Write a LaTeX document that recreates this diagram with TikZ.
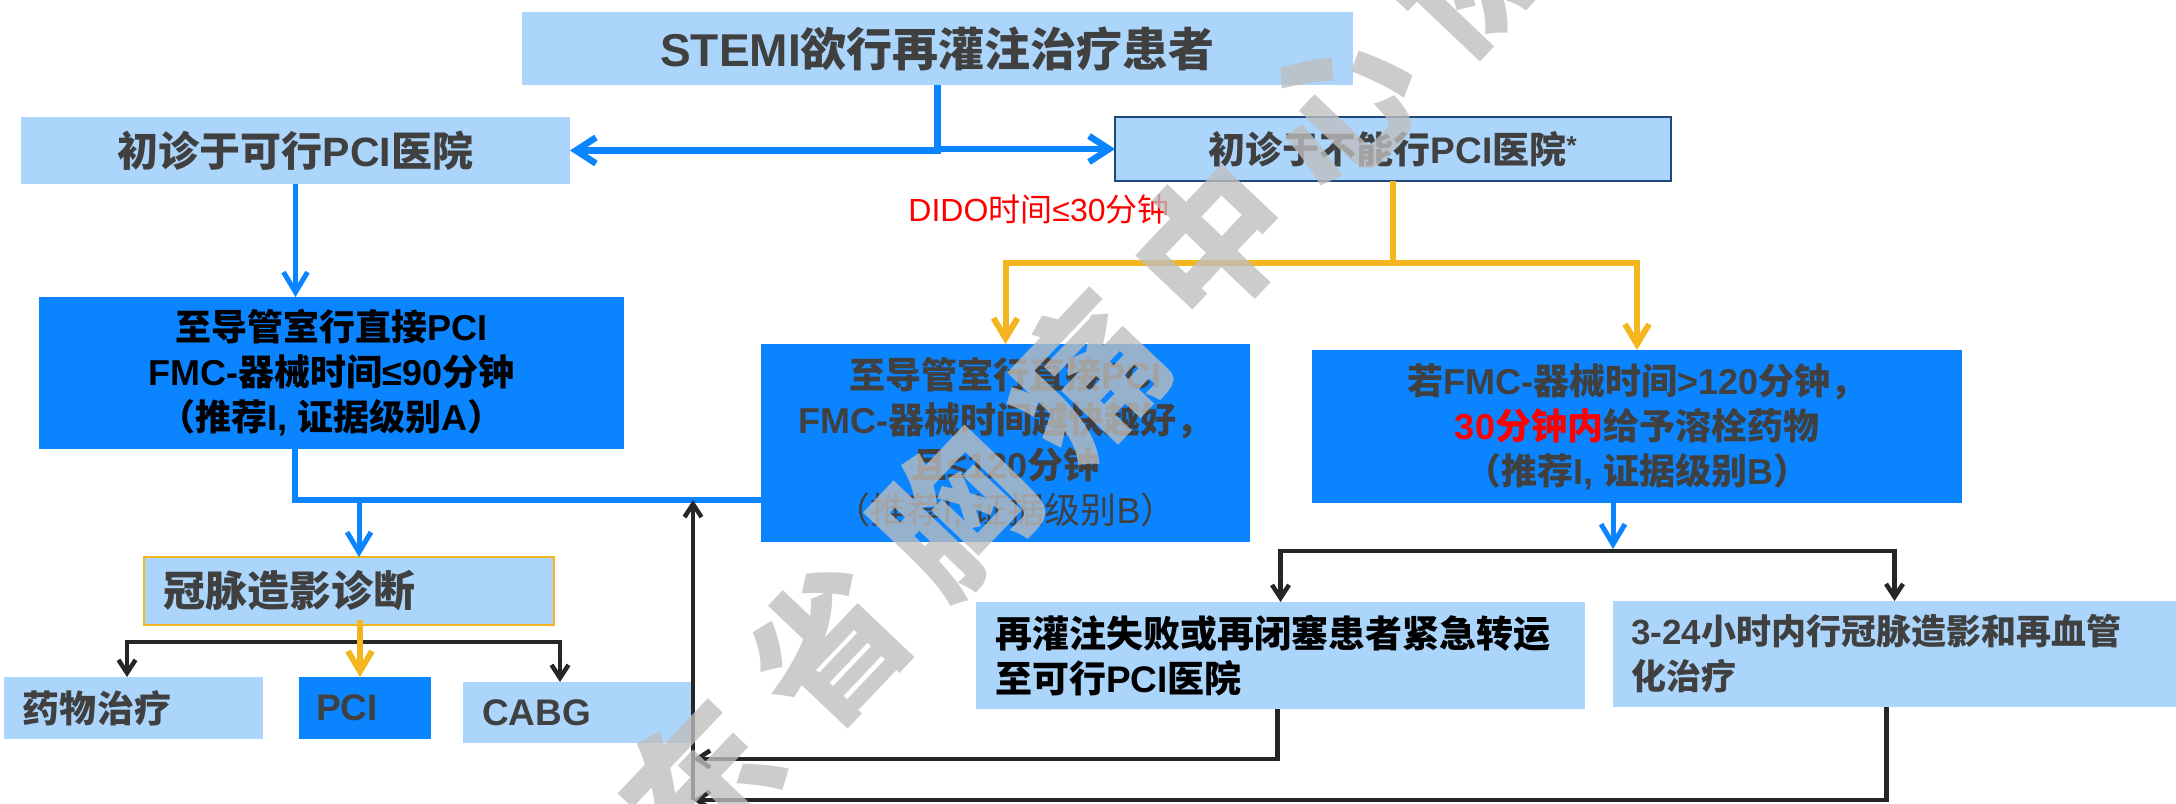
\documentclass[tikz,border=0pt]{standalone}
\usepackage{fontspec}
\setmainfont{Liberation Sans}
\newfontfamily\latinfont{Liberation Sans}
\newfontfamily\cjkfont{Noto Sans CJK SC}
\usetikzlibrary{arrows.meta}
\exhyphenpenalty=10000
\XeTeXinterchartokenstate=1
\newXeTeXintercharclass\cjkclass
\makeatletter
\count@="4E00
\loop
  \XeTeXcharclass\count@=\cjkclass
  \ifnum\count@<"9FFF \advance\count@\@ne
\repeat
\makeatother
\XeTeXcharclass"FF08=\cjkclass
\XeTeXcharclass"FF09=\cjkclass
\XeTeXcharclass"FF0C=\cjkclass
\XeTeXinterchartoks 0 \cjkclass={\cjkfont}
\XeTeXinterchartoks 4095 \cjkclass={\cjkfont}
\XeTeXinterchartoks \cjkclass 0={\latinfont}
\XeTeXinterchartoks \cjkclass 4095={\latinfont}

\definecolor{lblue}{RGB}{172,213,251}
\definecolor{dblue}{RGB}{10,132,255}
\definecolor{cyel}{RGB}{244,182,30}
\definecolor{navy}{RGB}{31,73,125}
\definecolor{tgrey}{RGB}{64,64,64}
\definecolor{kline}{RGB}{38,38,38}
\definecolor{wmgrey}{RGB}{190,190,190}
\definecolor{cred}{RGB}{255,0,0}

\tikzset{
  box/.style={rectangle, inner sep=0pt, outer sep=0pt, align=center},
  lbox/.style={box, fill=lblue},
  dbox/.style={box, fill=dblue},
  ltext/.style={align=left, inner ysep=0pt},
  barrow/.style={draw=dblue, line width=6.5pt, -{Straight Barb[length=20pt,width=26pt]}},
  bline/.style={draw=dblue, line width=5.5pt},
  barrowm/.style={draw=dblue, line width=5pt, -{Straight Barb[length=20pt,width=24pt]}},
  yarrow/.style={draw=cyel, line width=6pt, -{Straight Barb[length=20pt,width=24pt]}},
  karrow/.style={draw=kline, line width=4.5pt, -{Straight Barb[length=13pt,width=17pt]}},
  wm/.style={inner sep=0pt, text=wmgrey, text opacity=0.78, rotate=46.5,
    font=\fontsize{150}{150}\selectfont\bfseries},
  f36/.style={font=\fontsize{36}{45}\selectfont\bfseries},
  f37/.style={font=\fontsize{37}{45}\selectfont\bfseries}
}

\begin{document}
\begin{tikzpicture}[x=1pt, y=-1pt]
\useasboundingbox (0,0) rectangle (2176,803);

% boxes
\node[lbox, minimum width=831pt, minimum height=73pt, text=tgrey,
  font=\fontsize{46}{50}\selectfont\bfseries] (title) at (937.5,48.5) {STEMI欲行再灌注治疗患者};
\node[lbox, minimum width=549pt, minimum height=67pt, text=tgrey,
  font=\fontsize{41}{45}\selectfont\bfseries] (b2) at (295.5,150.5) {初诊于可行PCI医院};
\node[lbox, draw=navy, line width=2pt, minimum width=556pt, minimum height=64pt, text=tgrey,
  font=\fontsize{37}{45}\selectfont\bfseries] (b3) at (1393,149) {初诊于不能行PCI医院\textsuperscript{*}};
\node[dbox, minimum width=585pt, minimum height=152pt, text=black, f36] (b4) at (331.5,373)
  {至导管室行直接PCI\\FMC-器械时间≤90分钟\\（推荐I, 证据级别A）};
\node[dbox, minimum width=489pt, minimum height=198pt, text=tgrey, f36] (b5) at (1005.5,443)
  {至导管室行直接PCI\\FMC-器械时间越快越好，\\且≤120分钟\\{\mdseries （推荐I, 证据级别B）}};
\node[dbox, minimum width=650pt, minimum height=153pt, text=tgrey, f36] (b7) at (1637,426.5)
  {若FMC-器械时间>120分钟，\\\textcolor{cred}{30分钟内}给予溶栓药物\\（推荐I, 证据级别B）};
\node[text=cred, inner sep=0pt, font=\fontsize{32}{36}\selectfont] (dido) at (1039,209) {DIDO时间≤30分钟};

\node[lbox, ltext, draw=cyel, line width=2pt, text width=372pt, inner xsep=19pt, minimum height=68pt,
  text=tgrey, font=\fontsize{42}{45}\selectfont\bfseries] (b6) at (349,591) {冠脉造影诊断};
\node[lbox, ltext, text width=221pt, inner xsep=19pt, minimum height=62pt, text=tgrey, f37] (b10) at (133.5,708) {药物治疗};
\node[dbox, ltext, text width=98pt, inner xsep=17pt, minimum height=62pt, text=tgrey, f37] (b11) at (365,708) {PCI};
\node[lbox, ltext, text width=191pt, inner xsep=19pt, minimum height=61pt, text=tgrey, f37] (b12) at (577.5,712.5) {CABG};
\node[lbox, ltext, text width=571pt, inner xsep=19pt, minimum height=107pt, text=black, f37] (b8) at (1280.5,655.5)
  {再灌注失败或再闭塞患者紧急转运\\至可行PCI医院};
\node[lbox, ltext, text width=527pt, inner xsep=18pt, minimum height=106pt, text=tgrey,
  font=\fontsize{35}{45}\selectfont\bfseries] (b9) at (1894.5,654)
  {3-24小时内行冠脉造影和再血管\\化治疗};

% coordinates
\coordinate (j1) at (295,500);
\coordinate (j2) at (359,500);
\coordinate (k) at (1613,551);
\coordinate (m) at (360,642);
\coordinate (y6) at (360,620);
\coordinate (r1) at (693,759);
\coordinate (r2) at (693,800);

% blue connectors
\draw[barrow] (title.south) |- (b2.east);
\draw[barrow] (title.south) |- (b3.west);
\draw[barrowm] (b2.south) -- (b2.south |- b4.north);
\draw[bline] (b4.south -| j1) -- (j1) -- (j1 -| b5.west);
\draw[barrowm] (j2) -- (j2 |- b6.north);

% yellow connectors
\draw[yarrow] (b3.south) -- ++(0,82) -| (b5.north);
\draw[yarrow] (b3.south) -- ++(0,82) -| (b7.north);

% black connectors
\draw[karrow] (k) -| (b8.north);
\draw[karrow] (k) -| (b9.north);
\draw[barrowm] (b7.south -| k) -- ([yshift=2pt]k);
\draw[karrow] ([xshift=-3pt]b8.south) |- (r1);
\draw[karrow] ([xshift=-8pt]b9.south) |- (r2);
\draw[karrow] (r2) -- (r2 |- j1);
\draw[karrow] (m) -| ([xshift=-6.5pt]b10.north);
\draw[karrow] (m) -| ([xshift=-17.5pt]b12.north);
\draw[yarrow] (y6) -- (y6 |- b11.north);

% watermark
\begin{scope}
\clip (0,0) rectangle (2176,803);
\foreach \ch [count=\i from 0] in {东,省,胸,痛,中,心,协} {
  \node[wm] (wm\i) at ({700+128*\i},{782-135*\i}) {\ch};
}
\end{scope}
\end{tikzpicture}
\end{document}
